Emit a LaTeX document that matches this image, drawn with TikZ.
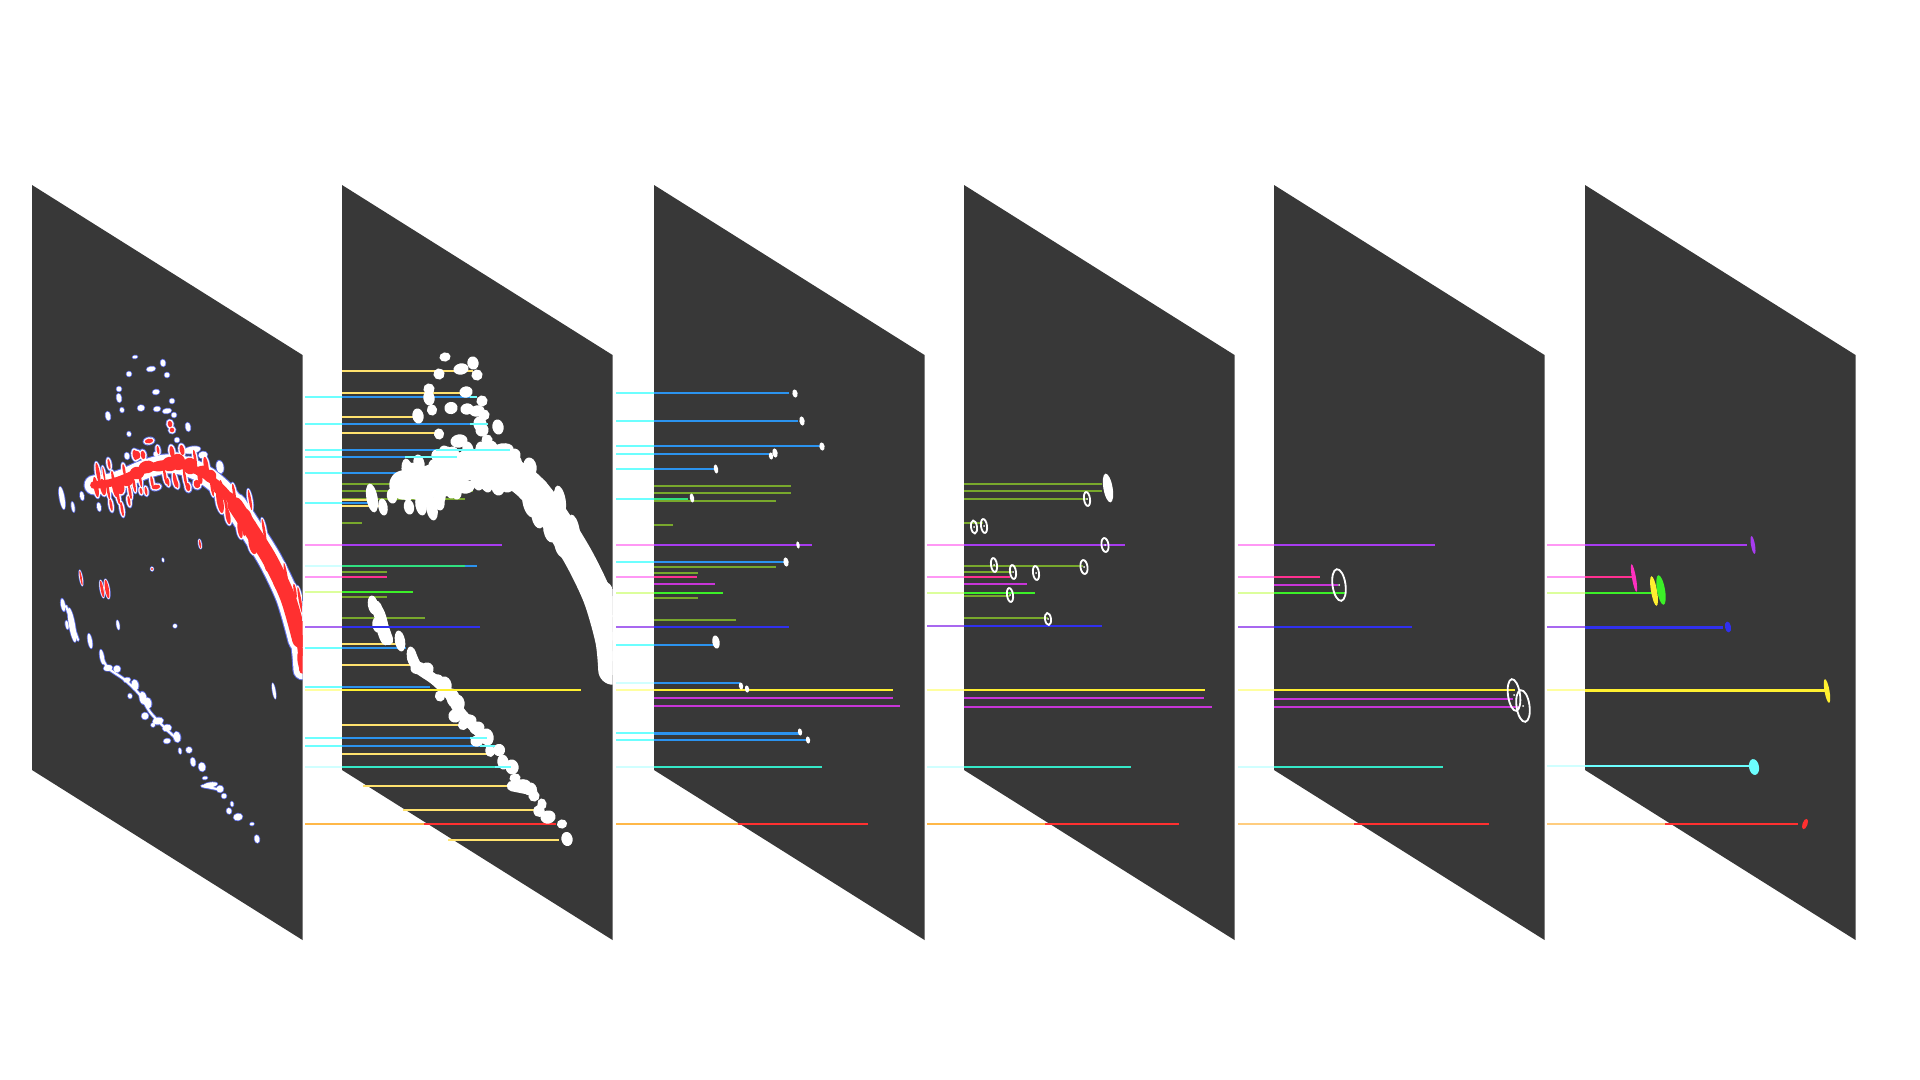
\documentclass[tikz,border=0pt]{standalone}
\usepackage{tikz}
\usepackage{color}

\definecolor{planeGrey}{HTML}{383838}
\definecolor{haloBlue}{HTML}{5C6CE4}
\definecolor{fineAmber}{HTML}{FFE26E}
\definecolor{fineSky}{HTML}{2B93EF}
\definecolor{fineOlive}{HTML}{78A82C}
\definecolor{fineViolet}{HTML}{A83CF0}
\definecolor{fineRose}{HTML}{FF3090}
\definecolor{fineMagenta}{HTML}{FF30C0}
\definecolor{fineLime}{HTML}{3CF028}
\definecolor{fineIndigo}{HTML}{3030EE}
\definecolor{fineGold}{HTML}{FFF030}
\definecolor{fineOrchid}{HTML}{C835D8}
\definecolor{fineTeal}{HTML}{35E8C8}
\definecolor{fineRed}{HTML}{FF3030}
\definecolor{fineMint}{HTML}{30E080}
\definecolor{fineAqua}{HTML}{6CFFFF}
\definecolor{gapPink}{HTML}{FF98F5}
\definecolor{gapLime}{HTML}{DCFF9C}
\definecolor{gapPurple}{HTML}{A868F0}
\definecolor{gapYellow}{HTML}{FFFFA0}
\definecolor{gapOrange}{HTML}{FFB848}
\definecolor{gapPale}{HTML}{D0FFFF}

\tikzset{
    planeline/.style={line width=4.2pt},
    gapline/.style={line width=1.9pt},
    ringline/.style={draw=white,line width=2.6pt},
}

\newcommand{\blobrow}[3]{
    \foreach \x/\y/\rx/\ry in #1 {
      \fill[#2,shift={(\x,\y)},rotate=10] (0,0) ellipse [x radius=\rx+#3,y radius=\ry+#3];
    }
}
\newcommand{\linerow}[1]{
    \foreach \col/\y/\xa/\xb in {#1} {
      \draw[planeline,\col] (\xa,\y) -- (\xb,\y);
    }
}
\newcommand{\gaprow}[3]{
    \foreach \col/\y in {#3} {
      \draw[gapline,\col] (#1,\y) -- (#2,\y);
    }
}
\newcommand{\ringrow}[1]{
    \foreach \x/\y/\rx/\ry in {#1} {
      \draw[ringline,shift={(\x,\y)},rotate=8] (0,0) ellipse [x radius=\rx,y radius=\ry];
      \fill[white] (\x,\y) circle [radius=1];
    }
}
\newcommand{\archband}[2]{
    \draw[#1,line width=#2,line join=round,line cap=round] plot[smooth] coordinates {(94,485) (110,483) (125,478) (143,470) (165,464)
      (185,466) (205,475) (225,492) (247,522) (270,560) (288,598) (300,640) (303,670)};
}
\newcommand{\archtail}[2]{
    \draw[#1,line width=#2,line cap=round] plot[smooth] coordinates {(235,505) (250,528) (270,560) (288,598) (300,640)};
}
\newcommand{\chainband}[2]{
    \draw[#1,line width=#2,line join=round,line cap=round] plot[smooth] coordinates {(102,657) (108,668) (125,680) (140,695)
      (150,712) (165,728) (178,740)};
    \draw[#1,line width=#2,line cap=round] (66,606) -- (78,640);
    \draw[#1,line width=#2,line cap=round] (202,786) -- (222,790);
}

\def\archlist{98/473/2.5/11, 96/487/3/11, 103/487/3.5/9, 109/464/2/6, 111/505/2/7, 115/487/3.5/11,
    122/509/2/8, 120/487/5/8, 129/501/2/6, 127/480/7/7, 137/473/8/7, 135/455/3/6, 141/491/2/4,
    146/491/2/5, 147/467/9/7, 156/487/5/3, 160/466/10/6, 170/464/9/8, 168/482/2/5, 178/462/8/9,
    177/484/2/5, 188/487/3/5, 190/466/8/9, 197/484/4/5, 202/471/8/6, 210/476/7/7, 217/487/5/8,
    220/501/4/13, 228/516/3/9, 230/498/5/7, 237/509/5/8, 240/530/3/9, 247/519/6/11, 253/544/5/11,
    260/541/6/10, 267/555/6/13, 268/566/4/7, 278/580/6/12, 283/587/5/15, 292/601/4/13, 295/591/2/8,
    298/626/5/12, 300/644/3/14, 300/662/3/10, 170/424/3/4, 172/430/3/3, 149/441/5/3, 137/455/4/5,
    104/475/1.5/9, 108/490/2/10, 113/478/2/8, 118/496/2/9, 124/470/2/7, 130/492/2/8, 134/484/2/9,
    140/478/2/10, 143/455/3/5, 152/482/2/7, 158/450/2/5, 165/476/2/9, 172/452/3/7, 175/480/2.5/8,
    182/450/3/6, 185/478/2/10, 195/458/2/9, 200/478/3/7, 206/465/3/9, 212/488/2/9, 222/490/2.5/11,
    226/505/2/10, 234/492/2/9, 243/528/2/9, 250/500/2/11, 256/530/2/10, 264/530/2/12, 272/560/2/10,
    276/565/2/13, 286/575/2/13, 296/610/2/14, 288/600/2/10, 300/600/2/14}
\def\scatterlist{135/357/2/1, 151/369/4/2, 163/363/2/3, 167/375/2/2, 129/374/2/2, 119/389/2/2, 119/398/2/4,
    156/392/3/2, 172/401/2/2, 122/410/1.5/2, 141/408/3/2.5, 108/416/2/4, 157/409/3/2, 167/411/4/2,
    174/415/2/2, 188/427/2/4, 129/434/1.5/2, 177/440/2/2, 192/450/8/3, 127/456/2/3, 156/454/2/2,
    220/467/3/6, 203/455/4/3, 62/498/2/11, 73/507/1/5, 82/496/1.5/4, 99/507/1.5/4,
    63/605/1.5/6, 72/625/2.5/17, 67/625/1/4, 90/641/1.5/7, 102/657/1.5/7, 108/668/4/2.5, 117/669/3/3,
    127/680/3/2, 135/685/3/5, 143/698/3/6, 148/703/3/5, 145/716/3/3, 158/721/5/3, 167/728/4/3,
    177/737/3/5, 167/741/3/2, 153/725/1.5/1.5, 180/751/1/2.5, 189/750/2.5/2.5, 193/762/2/4,
    202/767/3/4, 205/778/2/1, 210/785/7/2, 220/789/3/3, 224/796/2/2, 232/804/1/2, 229/811/2/2.5,
    238/817/4/3, 252/824/1.5/1, 257/839/2/3.5, 130/696/1.5/2}
\def\spotlist{200/544/1.5/5, 152/569/1.5/2, 81/578/1.5/8, 102/589/2/9, 107/589/2.5/10}
\def\palelist{163/560/1/2, 118/625/1.5/5, 175/626/2/2, 274/691/1.5/8}

\begin{document}
\begin{tikzpicture}[x=0.05cm,y=-0.05cm]
    \useasboundingbox (0,0) rectangle (1920,1080);

    \foreach \px in {32,342,654,964,1274,1585} {
      \fill[planeGrey] (\px,185) -- (\px+270.5,355) -- (\px+270.5,940) -- (\px,770) -- cycle;
    }

    % first plane
    \begin{scope}
      \clip (32,185) -- (302.5,355) -- (302.5,940) -- (32,770) -- cycle;
      \archband{haloBlue}{30pt}
      \archtail{haloBlue}{36pt}
      \chainband{haloBlue}{5.5pt}
      \blobrow{\archlist}{haloBlue}{1.5}
      \blobrow{\scatterlist}{haloBlue}{1.3}
      \blobrow{\spotlist}{haloBlue}{0.8}
      \blobrow{\palelist}{haloBlue}{0.7}
      \archband{white}{27pt}
      \archtail{white}{33pt}
      \chainband{white}{3pt}
      \blobrow{\archlist}{white}{0.7}
      \blobrow{\scatterlist}{white}{0.5}
      \blobrow{\spotlist}{white}{0.2}
      \blobrow{\palelist}{white}{0}
      \blobrow{\archlist}{fineRed}{-0.7}
      \archband{fineRed}{11pt}
      \archtail{fineRed}{22pt}
      \blobrow{\spotlist}{fineRed}{-0.6}
    \end{scope}

    % second plane
    \gaprow{305}{342}{fineAqua/397, fineAqua/424, fineAqua/450, fineAqua/457, fineAqua/473, fineAqua/503, gapPink/545,
      gapPale/566, gapPink/577, gapLime/592, gapPurple/627, fineAqua/648, fineAqua/687, gapYellow/690, fineAqua/738,
      fineAqua/746, gapPale/767}
    \draw[gapline,gapOrange] (305,824) -- (424,824);
    \linerow{fineAmber/371/342/473, fineAmber/393/342/467, fineSky/397/342/477, fineAmber/417/342/417,
      fineSky/424/342/488, fineAmber/433/342/438, fineSky/450/342/440, fineSky/457/342/440, fineSky/473/342/405,
      fineOlive/484/342/470, fineOlive/491/342/473, fineOlive/499/342/465, fineAmber/500/342/375, fineSky/503/342/377,
      fineAmber/506/342/382, fineOlive/523/342/362, fineViolet/545/342/502, fineSky/566/342/477, fineMint/566/342/465,
      fineOlive/572/342/387, fineRose/577/342/387, fineOlive/597/342/387, fineOlive/618/342/425,
      fineAmber/644/342/400, fineSky/648/342/406, fineAmber/665/342/413, fineSky/687/342/430, fineAmber/725/342/460,
      fineSky/738/342/487, fineSky/746/342/495, fineAmber/754/342/493, fineTeal/767/342/511, fineAmber/786/363/510,
      fineAmber/810/403/536, fineRed/824/424/556, fineAmber/840/448/559}
    \begin{scope}
      \clip (342,185) -- (612.5,355) -- (612.5,940) -- (342,770) -- cycle;
      \begin{scope}[shift={(310,0)}]
        \archband{white}{42pt}
        \chainband{white}{15pt}
        \blobrow{\archlist}{white}{3.6}
        \blobrow{\scatterlist}{white}{3.6}
      \end{scope}
    \end{scope}
    \linerow{fineLime/592/342/413, fineIndigo/627/342/480, fineGold/690/342/581}
    \foreach \y/\xa/\xb in {397/470/477, 424/470/488, 450/436/510, 457/405/457, 738/470/487, 746/480/495, 767/495/511} {
      \draw[gapline,fineAqua] (\xa,\y) -- (\xb,\y);
    }

    % third plane
    \gaprow{616}{654}{fineAqua/393, fineAqua/421, fineAqua/446, fineAqua/454, fineAqua/469, fineAqua/499, gapPink/545,
      fineAqua/562, gapPink/577, gapLime/593, gapPurple/627, fineAqua/645, gapPale/683, gapYellow/690, fineAqua/733,
      fineAqua/740, gapPale/767}
    \draw[gapline,gapOrange] (616,824) -- (738,824);
    \linerow{fineSky/393/654/789, fineSky/421/654/798, fineSky/446/654/821, fineSky/454/654/769, fineSky/469/654/716,
      fineOlive/486/654/791, fineOlive/493/654/791, fineOlive/501/654/776, fineMint/499/654/688, fineOlive/525/654/673,
      fineViolet/545/654/812, fineSky/562/654/785, fineOlive/567/654/776, fineOlive/573/654/698, fineRose/577/654/697,
      fineOrchid/584/654/715, fineLime/593/654/723, fineOlive/598/654/698, fineOlive/620/654/736, fineIndigo/627/654/789,
      fineSky/645/654/716, fineSky/683/654/740, fineGold/690/654/893, fineOrchid/698/654/893, fineOrchid/706/654/900,
      fineSky/733.5/654/800, fineSky/740/654/807, fineTeal/767/654/822, fineRed/824/738/868}
    \blobrow{{795/393.5/2/3.5, 802/421/2/4, 822/446.5/2/3.5, 771/456/1.5/3, 775/453/2/4, 716/469/1.5/4, 692/498/1.5/4,
      798/545/1/3, 786/562/2/4, 716/642/3/6, 741/686/1.5/3, 747/689/1.5/3, 800/732/1.5/3, 808/740/1.5/3}}{white}{0.6}

    % fourth plane
    \gaprow{927}{964}{gapPink/545, gapPink/577, gapLime/593, gapPurple/626, gapYellow/690, gapPale/767}
    \draw[gapline,gapOrange] (927,824) -- (1045,824);
    \linerow{fineOlive/484/964/1102, fineOlive/491/964/1102, fineOlive/499/964/1087, fineOlive/523/964/983,
      fineViolet/545/964/1125, fineOlive/566/964/1083, fineOlive/572/964/1012, fineRose/577/964/1010,
      fineOrchid/584/964/1027, fineLime/593/964/1035, fineOlive/596/964/1010, fineOlive/618/964/1048,
      fineIndigo/626/964/1102, fineGold/690/964/1205, fineOrchid/698/964/1204, fineOrchid/707/964/1212,
      fineTeal/767/964/1131, fineRed/824/1045/1179}
    \ringrow{974/527/3/6.5, 984/526/3/7, 1087/499/3/7, 1105/545/3.5/7, 994/565/3/7, 1013/572/3/7, 1036/573/3/7,
      1084/567/3.5/7, 1010/595/3/7, 1048/619/3/6}
    \blobrow{{1108/488/4/14}}{white}{0.6}

    % fifth plane
    \gaprow{1238}{1274}{gapPink/545, gapPink/577, gapLime/593, gapPurple/627, gapYellow/690, gapPale/767}
    \draw[gapline,gapOrange!70] (1238,824) -- (1354,824);
    \linerow{fineViolet/545/1274/1435, fineRose/577/1274/1320, fineOrchid/585/1274/1338, fineLime/593/1274/1346,
      fineIndigo/627/1274/1412, fineGold/690/1274/1515, fineOrchid/699/1274/1513, fineOrchid/707/1274/1520,
      fineTeal/767/1274/1443, fineRed/824/1354/1489}
    \ringrow{1339/585/6.5/16, 1514/695/6/16, 1523/706/6.5/16}

    % sixth plane
    \gaprow{1547}{1585}{gapPink/545, gapPink/577, gapLime/593, gapPurple/627, gapYellow/690, gapPale/766}
    \draw[gapline,gapOrange!70] (1547,824) -- (1665,824);
    \linerow{fineViolet/545/1585/1747, fineRose/577/1585/1633, fineLime/593/1585/1657, fineIndigo/627.5/1585/1723,
      fineGold/690.5/1585/1827, fineAqua/766/1585/1750, fineRed/824/1665/1798}
    \blobrow{{1753/545/2/9}}{fineViolet}{0}
    \blobrow{{1634/578/2/14}}{fineMagenta}{0}
    \blobrow{{1654/591/3/15}}{fineGold}{0}
    \blobrow{{1661/590/4/15}}{fineLime}{0}
    \blobrow{{1728/627/3/5.5}}{fineIndigo}{0}
    \blobrow{{1827/691/2.5/12}}{fineGold}{0}
    \blobrow{{1754/767/5/8}}{fineAqua}{0}
    \fill[fineRed,shift={(1805,824)},rotate=-20] (0,0) ellipse [x radius=2.5,y radius=5.5];
  \end{tikzpicture}
\end{document}
